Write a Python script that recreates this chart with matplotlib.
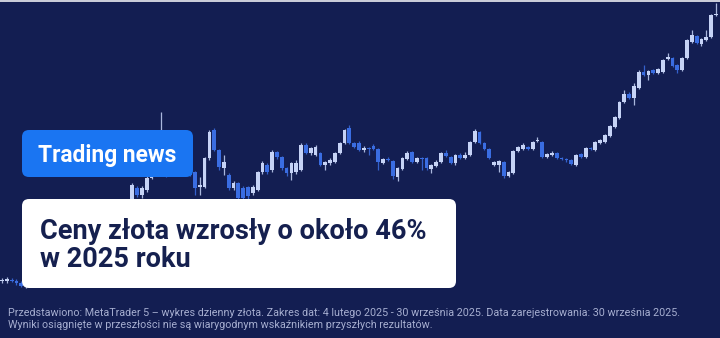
import matplotlib
matplotlib.use("Agg")
import matplotlib.pyplot as plt
from matplotlib.patches import FancyBboxPatch, Rectangle
import numpy as np

# Daily gold candles (USD), 4 Feb 2025 - 30 Sep 2025
opens = [2876, 2876, 2880, 2876, 2868, 2856, 2865, 2880, 2900, 2925, 2940, 2930, 2950, 2935, 2905, 2885,
         2900, 2925, 2920, 2950, 2990, 3010, 3000, 3035, 3060, 3050, 3120, 3200, 3248, 3220, 3240, 3288,
         3330, 3380, 3440, 3380, 3300, 3340, 3310, 3330, 3312, 3252, 3252, 3368, 3480, 3400, 3328, 3300,
         3248, 3268, 3250, 3252, 3228, 3240, 3312, 3340, 3320, 3392, 3372, 3328, 3308, 3312, 3320, 3420,
         3388, 3380, 3388, 3340, 3348, 3352, 3388, 3428, 3488, 3428, 3428, 3400, 3408, 3416, 3404, 3348,
         3364, 3356, 3292, 3324, 3364, 3392, 3352, 3368, 3368, 3324, 3336, 3352, 3388, 3372, 3348, 3380,
         3368, 3380, 3432, 3472, 3428, 3404, 3340, 3340, 3352, 3296, 3308, 3396, 3404, 3412, 3404, 3436,
         3432, 3372, 3380, 3388, 3368, 3364, 3360, 3340, 3384, 3372, 3408, 3400, 3428, 3432, 3456, 3492,
         3528, 3592, 3624, 3608, 3648, 3712, 3700, 3720, 3708, 3712, 3764, 3768, 3740, 3720, 3768, 3832,
         3856, 3824, 3840, 3852, 3940]
highs = [2888, 2892, 2888, 2884, 2876, 2873, 2888, 2908, 2933, 2948, 2948, 2958, 2958, 2943, 2913, 2908,
         2933, 2933, 2958, 2998, 3018, 3018, 3043, 3068, 3068, 3128, 3196, 3268, 3256, 3256, 3296, 3340,
         3395, 3552, 3460, 3390, 3360, 3350, 3345, 3340, 3316, 3292, 3372, 3480, 3488, 3404, 3380, 3310,
         3276, 3272, 3256, 3258, 3260, 3316, 3356, 3348, 3400, 3396, 3376, 3332, 3352, 3360, 3428, 3430,
         3412, 3420, 3392, 3356, 3368, 3392, 3432, 3484, 3500, 3432, 3436, 3416, 3412, 3424, 3408, 3368,
         3372, 3360, 3332, 3372, 3396, 3396, 3372, 3372, 3372, 3344, 3360, 3392, 3400, 3376, 3384, 3388,
         3392, 3436, 3484, 3476, 3432, 3408, 3356, 3360, 3356, 3316, 3400, 3416, 3428, 3416, 3436, 3452,
         3436, 3388, 3396, 3392, 3372, 3368, 3364, 3384, 3388, 3412, 3412, 3436, 3444, 3464, 3500, 3536,
         3596, 3640, 3632, 3668, 3720, 3740, 3720, 3724, 3728, 3764, 3788, 3772, 3744, 3772, 3844, 3880,
         3860, 3848, 3880, 3944, 3988]
lows = [2868, 2868, 2872, 2860, 2852, 2850, 2857, 2872, 2892, 2917, 2922, 2922, 2927, 2897, 2877, 2877,
        2892, 2912, 2912, 2942, 2982, 2992, 2992, 3027, 3042, 3042, 3112, 3192, 3212, 3210, 3232, 3284,
        3320, 3370, 3292, 3296, 3296, 3296, 3296, 3296, 3220, 3220, 3248, 3360, 3396, 3320, 3300, 3240,
        3240, 3200, 3196, 3205, 3220, 3236, 3305, 3305, 3312, 3364, 3320, 3296, 3280, 3304, 3316, 3384,
        3380, 3376, 3336, 3320, 3340, 3348, 3384, 3424, 3424, 3408, 3396, 3392, 3380, 3400, 3320, 3344,
        3356, 3284, 3276, 3320, 3360, 3348, 3348, 3320, 3320, 3308, 3332, 3348, 3372, 3344, 3340, 3364,
        3364, 3376, 3428, 3424, 3400, 3364, 3336, 3312, 3288, 3292, 3304, 3392, 3400, 3400, 3400, 3432,
        3368, 3368, 3376, 3364, 3360, 3352, 3340, 3336, 3368, 3368, 3400, 3396, 3424, 3428, 3452, 3488,
        3524, 3588, 3604, 3580, 3644, 3696, 3680, 3704, 3704, 3708, 3760, 3732, 3708, 3716, 3764, 3828,
        3824, 3816, 3836, 3848, 3936]
closes = [2880, 2884, 2876, 2868, 2856, 2865, 2880, 2900, 2925, 2940, 2930, 2950, 2935, 2905, 2885, 2900,
          2925, 2920, 2950, 2990, 3010, 3000, 3035, 3060, 3050, 3120, 3190, 3260, 3220, 3248, 3288, 3330,
          3380, 3440, 3380, 3300, 3340, 3310, 3330, 3300, 3248, 3260, 3368, 3472, 3400, 3332, 3352, 3248,
          3268, 3208, 3208, 3216, 3252, 3312, 3348, 3312, 3392, 3372, 3328, 3308, 3348, 3348, 3420, 3388,
          3408, 3412, 3340, 3352, 3360, 3388, 3428, 3480, 3428, 3412, 3400, 3408, 3404, 3404, 3352, 3364,
          3360, 3296, 3328, 3368, 3388, 3352, 3368, 3364, 3328, 3340, 3352, 3388, 3376, 3348, 3380, 3368,
          3380, 3432, 3476, 3428, 3404, 3368, 3352, 3356, 3296, 3312, 3396, 3412, 3420, 3404, 3432, 3440,
          3372, 3384, 3388, 3368, 3364, 3360, 3344, 3380, 3372, 3408, 3404, 3432, 3440, 3460, 3496, 3532,
          3592, 3624, 3608, 3656, 3712, 3700, 3716, 3708, 3724, 3760, 3772, 3736, 3720, 3768, 3840, 3860,
          3828, 3844, 3852, 3940, 3944]

badge_text = "Trading news"
title_lines = ["Ceny złota wzrosły o około 46%", "w 2025 roku"]
footer_lines = [
    "Przedstawiono: MetaTrader 5 – wykres dzienny złota. Zakres dat: 4 lutego 2025 - 30 września 2025. "
    "Data zarejestrowania: 30 września 2025.",
    "Wyniki osiągnięte w przeszłości nie są wiarygodnym wskaźnikiem przyszłych rezultatów.",
]

BG = "#131e52"
UP = "#c6d3f6"
DOWN = "#3a6de2"

W, H = 720, 338
fig = plt.figure(figsize=(W / 100, H / 100), dpi=100)
fig.patch.set_facecolor(BG)

# price chart
ax = fig.add_axes([0, 0, 1, 1])
ax.set_facecolor(BG)
n = len(opens)
xs = np.arange(n)
o = np.array(opens, float)
c = np.array(closes, float)
hi = np.array(highs, float)
lo = np.array(lows, float)
cols = [UP if cc > oo else DOWN for oo, cc in zip(o, c)]
ax.vlines(xs, lo, hi, colors=cols, linewidth=0.9, alpha=0.85, zorder=2)
body_h = np.maximum(np.abs(c - o), 4)
ax.bar(xs, body_h, bottom=np.minimum(o, c), width=0.78, color=cols, linewidth=0, zorder=3)
ax.set_xlim(-0.415, 148.84)
ax.set_ylim(4000 - 4 * H, 4000)
ax.axis("off")

# overlay in pixel coordinates
ov = fig.add_axes([0, 0, 1, 1])
ov.set_xlim(0, W)
ov.set_ylim(H, 0)
ov.axis("off")
ov.patch.set_alpha(0)

ov.add_patch(Rectangle((0, 0), W, 2.2, color="#c9ccd8", lw=0, zorder=1))

ov.add_patch(FancyBboxPatch((22, 130), 171, 47, boxstyle="round,pad=0,rounding_size=7",
                            facecolor="#1a75f2", edgecolor="none", zorder=2))
ov.add_patch(FancyBboxPatch((22, 199), 434, 89, boxstyle="round,pad=0,rounding_size=7",
                            facecolor="white", edgecolor="none", zorder=2))

ov.text(38, 162, badge_text, color="white", fontsize=16.4, fontweight="bold",
        family=["Roboto", "DejaVu Sans"], va="baseline", ha="left", zorder=3)
ov.text(40, 239.3, title_lines[0], color="#15204f", fontsize=19.5, fontweight="bold",
        family=["Roboto", "DejaVu Sans"], va="baseline", ha="left", zorder=3)
ov.text(40, 267, title_lines[1], color="#15204f", fontsize=19.5, fontweight="bold",
        family=["Roboto", "DejaVu Sans"], va="baseline", ha="left", zorder=3)

ov.text(8, 316.5, footer_lines[0], color="#a6aed0", fontsize=7.75,
        family=["Roboto", "DejaVu Sans"], va="baseline", ha="left", zorder=3)
ov.text(8, 327.5, footer_lines[1], color="#a6aed0", fontsize=7.75,
        family=["Roboto", "DejaVu Sans"], va="baseline", ha="left", zorder=3)

fig.savefig("out.png", dpi=100, facecolor=BG)
